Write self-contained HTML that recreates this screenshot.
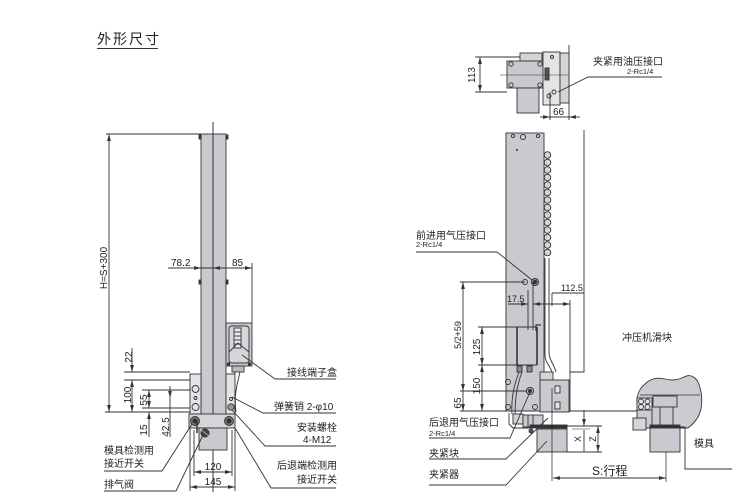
<!DOCTYPE html>
<html><head><meta charset="utf-8"><style>
html,body{margin:0;padding:0;background:#fff;}
svg{display:block;}
text{font-family:"Liberation Sans","Noto Sans CJK SC",sans-serif;fill:#222;}
</style></head><body>
<svg width="732" height="494" viewBox="0 0 732 494" xmlns="http://www.w3.org/2000/svg">
<defs>
<marker id="a" markerWidth="7" markerHeight="5" refX="7" refY="2.5" orient="auto-start-reverse" markerUnits="userSpaceOnUse"><path d="M0,0.6 L7,2.5 L0,4.4 z" fill="#333"/></marker>
</defs>

<!-- Title -->
<text x="97" y="44" font-size="14" letter-spacing="2">外形尺寸</text>
<line x1="97" y1="48.5" x2="158" y2="48.5" stroke="#333" stroke-width="1"/>

<!-- ================= LEFT DRAWING ================= -->
<g stroke="#333" stroke-width="0.9" fill="none">
  <rect x="201" y="134" width="25" height="281" fill="#c9cacf"/>
  <rect x="199" y="135" width="2" height="4" fill="#333"/>
  <rect x="226" y="135" width="2" height="4" fill="#333"/>
  <rect x="199" y="280" width="2" height="4" fill="#333"/>
  <rect x="226" y="280" width="2" height="4" fill="#333"/>
  <rect x="226" y="383" width="2" height="4" fill="#333"/>
  <line x1="213" y1="122" x2="213" y2="492" stroke="#222" stroke-width="0.9"/>

  <line x1="106" y1="134" x2="201" y2="134"/>
  <line x1="109" y1="134" x2="109" y2="412" marker-start="url(#a)" marker-end="url(#a)"/>
  <line x1="105" y1="412" x2="190" y2="412"/>

  <line x1="168" y1="268" x2="201" y2="268" marker-end="url(#a)"/>
  <line x1="201" y1="268" x2="252" y2="268"/>
  <line x1="222" y1="268" x2="213" y2="268" marker-end="url(#a)"/>
  <line x1="226" y1="268" x2="252" y2="268" marker-end="url(#a)"/>
  <line x1="252" y1="263" x2="252" y2="323"/>

  <rect x="226" y="323" width="26" height="43" fill="#c9cacf"/>
  <rect x="229" y="326" width="20" height="37" rx="3" fill="#d4d5d9"/>
  <rect x="234" y="328" width="7" height="20" fill="#e8e8ea"/>
  <line x1="234" y1="332" x2="241" y2="332"/><line x1="234" y1="336" x2="241" y2="336"/>
  <line x1="234" y1="340" x2="241" y2="340"/><line x1="234" y1="344" x2="241" y2="344"/>
  <path d="M229,352 L238,343 L249,352"/>
  <circle cx="228.5" cy="364" r="1.2" fill="#333"/><circle cx="249.5" cy="364" r="1.2" fill="#333"/>
  <rect x="232" y="366" width="12" height="6" fill="#bbb"/>
  <path d="M235,372 C231,385 229,395 231,412"/>
  <path d="M240,372 C236,388 234,398 236,412"/>

  <rect x="190" y="374" width="11" height="40" fill="#e4e4e6"/>
  <circle cx="195.5" cy="389" r="3.5"/>
  <circle cx="195.5" cy="398" r="1.5"/>
  <circle cx="195.5" cy="407" r="3.5"/>
  <rect x="226" y="374" width="9" height="40" fill="#e4e4e6"/>
  <circle cx="231" cy="407" r="3.2" fill="#999"/>
  <circle cx="231" cy="399" r="1.5"/>

  <rect x="189" y="414" width="46" height="14" fill="#d4d5d9"/>
  <circle cx="195" cy="421" r="4.5" fill="#777"/>
  <circle cx="195" cy="421" r="2" fill="#333"/>
  <circle cx="229" cy="421" r="4.5" fill="#777"/>
  <circle cx="229" cy="421" r="2" fill="#333"/>
  <line x1="197" y1="421" x2="197" y2="433" stroke-width="1.5"/>
  <rect x="199" y="428" width="28" height="22" fill="#c9cacf"/>
  <circle cx="205" cy="433" r="4" fill="#444"/>
  <line x1="201" y1="430" x2="209" y2="436" stroke="#aaa"/>

  <line x1="194" y1="430" x2="194" y2="476"/>
  <line x1="232" y1="430" x2="232" y2="476"/>
  <line x1="190" y1="428" x2="190" y2="491"/>
  <line x1="235" y1="428" x2="235" y2="491"/>
  <line x1="194" y1="472" x2="232" y2="472" marker-start="url(#a)" marker-end="url(#a)"/>
  <line x1="190" y1="487" x2="235" y2="487" marker-start="url(#a)" marker-end="url(#a)"/>

  <line x1="124" y1="372" x2="190" y2="372"/>
  <line x1="124" y1="380" x2="190" y2="380"/>
  <line x1="132" y1="348" x2="132" y2="372" marker-end="url(#a)"/>
  <line x1="132" y1="380" x2="132" y2="412" marker-start="url(#a)" marker-end="url(#a)"/>
  <line x1="142" y1="390" x2="190" y2="390"/>
  <line x1="142" y1="408" x2="190" y2="408"/>
  <line x1="149" y1="390" x2="149" y2="408" marker-start="url(#a)" marker-end="url(#a)"/>
  <line x1="149" y1="437" x2="149" y2="412" marker-end="url(#a)"/>
  <line x1="170" y1="386" x2="170" y2="398" marker-end="url(#a)"/>
  <line x1="170" y1="398" x2="170" y2="437"/>

  <polyline points="242,355 275,379 336,379"/>
  <polyline points="232,397 263,413 336,413"/>
  <polyline points="232,410 265,446 336,446"/>
  <polyline points="235,428 271,488 336,488"/>
  <polyline points="192,424 162,471 104,471"/>
  <polyline points="204,433 176,491 104,491"/>
</g>

<g font-size="10">
  <text x="171" y="266">78.2</text>
  <text x="232" y="266">85</text>
  <text x="213" y="470" text-anchor="middle">120</text>
  <text x="213" y="485" text-anchor="middle">145</text>
  <text transform="translate(107,268) rotate(-90)" text-anchor="middle">H=S+300</text>
  <text transform="translate(132,357) rotate(-90)" text-anchor="middle">22</text>
  <text transform="translate(131,395) rotate(-90)" text-anchor="middle">100</text>
  <text transform="translate(147,400) rotate(-90)" text-anchor="middle">55</text>
  <text transform="translate(147,430) rotate(-90)" text-anchor="middle">15</text>
  <text transform="translate(169,427) rotate(-90)" text-anchor="middle">42.5</text>
</g>
<g font-size="10">
  <text x="287" y="376">接线端子盒</text>
  <text x="274" y="410">弹簧销 2-φ10</text>
  <text x="297" y="431">安装螺栓</text>
  <text x="303" y="443">4-M12</text>
  <text x="277" y="469">后退端检测用</text>
  <text x="297" y="483">接近开关</text>
  <text x="104" y="454">模具检测用</text>
  <text x="104" y="467">接近开关</text>
  <text x="104" y="488">排气阀</text>
</g>

<!-- ================= RIGHT DRAWING ================= -->
<g stroke="#333" stroke-width="0.9" fill="none">
  <line x1="569" y1="45" x2="569" y2="120"/>
  <rect x="520" y="53" width="22" height="8" fill="#d4d5d9"/>
  <rect x="507" y="61" width="38" height="27" fill="#c9cacf"/>
  <circle cx="511" cy="64" r="2.2"/><circle cx="540" cy="64" r="2.2"/>
  <circle cx="511" cy="85" r="2.2"/><circle cx="540" cy="85" r="2.2"/>
  <rect x="517" y="88" width="22" height="25" fill="#c9cacf"/>
  <rect x="543" y="52" width="17" height="53" fill="#e4e4e6"/>
  <rect x="545" y="68" width="4" height="12" fill="#555"/>
  <circle cx="552" cy="57" r="1.5"/><circle cx="554" cy="92" r="2"/><circle cx="549" cy="96" r="2"/>
  <rect x="560" y="53" width="9" height="50" fill="#d4d5d9"/>
  <line x1="500" y1="75" x2="569" y2="75" stroke-width="0.6"/>
  <line x1="475" y1="57" x2="520" y2="57"/>
  <line x1="475" y1="92" x2="507" y2="92"/>
  <line x1="480" y1="57" x2="480" y2="92" marker-start="url(#a)" marker-end="url(#a)"/>
  <line x1="550" y1="92" x2="550" y2="120"/>
  <line x1="540" y1="117" x2="550" y2="117" marker-end="url(#a)"/>
  <line x1="550" y1="117" x2="569" y2="117"/>
  <line x1="580" y1="117" x2="569" y2="117" marker-end="url(#a)"/>
  <polyline points="558,92 588,77 662,77"/>

  <rect x="506" y="133" width="38" height="278" fill="#c9cacf"/>
  <circle cx="513" cy="136" r="1.6"/><circle cx="523" cy="137" r="2.6"/><circle cx="538" cy="136" r="1.6"/>
  <circle cx="517" cy="150" r="0.6" fill="#333"/>
  <g fill="#d4d5d9">
    <circle cx="547.5" cy="155" r="3.3"/><circle cx="547.5" cy="162.5" r="3.3"/>
    <circle cx="547.5" cy="170" r="3.3"/><circle cx="547.5" cy="177.5" r="3.3"/>
    <circle cx="547.5" cy="185" r="3.3"/><circle cx="547.5" cy="192.5" r="3.3"/>
    <circle cx="547.5" cy="200" r="3.3"/><circle cx="547.5" cy="207.5" r="3.3"/>
    <circle cx="547.5" cy="215" r="3.3"/><circle cx="547.5" cy="222.5" r="3.3"/>
    <circle cx="547.5" cy="230" r="3.3"/><circle cx="547.5" cy="237.5" r="3.3"/>
    <circle cx="547.5" cy="245" r="3.3"/><circle cx="547.5" cy="252.5" r="3.3"/>
  </g>
  <path d="M545,258 L545,355 C545,362 550,366 552,372"/>
  <path d="M549,258 L549,352 C549,360 554,364 556,372"/>

  <polyline points="584,130 584,372 570,372"/>
  <line x1="570" y1="300" x2="570" y2="412"/>
  <line x1="570" y1="411" x2="637" y2="411"/>

  <circle cx="525" cy="282" r="2.5"/>
  <circle cx="535" cy="282" r="3.6" fill="#888"/>
  <circle cx="535" cy="282" r="1.6" fill="#333"/>
  <polyline points="532,280 497,252 416,252"/>

  <line x1="460" y1="282" x2="525" y2="282"/>
  <line x1="463" y1="282" x2="463" y2="391" marker-start="url(#a)" marker-end="url(#a)"/>
  <line x1="463" y1="391" x2="463" y2="411" marker-end="url(#a)"/>
  <line x1="460" y1="391" x2="530" y2="391"/>
  <line x1="460" y1="411" x2="540" y2="411"/>

  <line x1="533" y1="282" x2="533" y2="330"/>
  <line x1="528" y1="290" x2="528" y2="330"/>
  <line x1="508" y1="304" x2="528" y2="304" marker-end="url(#a)"/>
  <line x1="545" y1="304" x2="533" y2="304" marker-end="url(#a)"/>
  <line x1="533" y1="304" x2="570" y2="304" marker-end="url(#a)"/>
  <line x1="552" y1="293" x2="584" y2="293"/>
  <line x1="552" y1="293" x2="552" y2="306"/>

  <line x1="517" y1="327" x2="517" y2="365" stroke-width="1.6"/>
  <line x1="537" y1="327" x2="537" y2="365" stroke-width="1.6"/>
  <path d="M536,331 L536,325 L541,325" stroke-width="1.2"/>
  <line x1="478" y1="327" x2="537" y2="327"/>
  <line x1="478" y1="365" x2="537" y2="365"/>
  <line x1="482" y1="327" x2="482" y2="365" marker-start="url(#a)" marker-end="url(#a)"/>
  <line x1="482" y1="365" x2="482" y2="411" marker-start="url(#a)" marker-end="url(#a)"/>
  <rect x="517" y="366" width="5" height="6" fill="#888"/>
  <rect x="527" y="366" width="5" height="6" fill="#888"/>
  <path d="M519,372 C514,385 511,400 512,414"/>
  <path d="M522,372 C517,385 515,400 515,414"/>

  <circle cx="508" cy="382" r="2.5"/>
  <circle cx="508" cy="407" r="2.5"/>
  <circle cx="535" cy="407" r="2.5"/>
  <circle cx="530" cy="391" r="3.6" fill="#aaa"/>
  <circle cx="530" cy="391" r="1.5" fill="#333"/>

  <rect x="540" y="372" width="13" height="8" fill="#d4d5d9"/>
  <rect x="540" y="380" width="29" height="32" fill="#c9cacf"/>
  <rect x="555" y="386" width="5" height="7" fill="#e4e4e6"/>
  <rect x="555" y="402" width="5" height="7" fill="#e4e4e6"/>

  <path d="M509,413 L509,424 L513,428 L530,428"/>
  <rect x="513" y="414" width="10" height="10" fill="#d4d5d9"/>
  <rect x="523" y="415" width="20" height="12" fill="#c9cacf"/>
  <line x1="528" y1="415" x2="528" y2="427"/>
  <line x1="533" y1="415" x2="533" y2="427"/>
  <rect x="530" y="425" width="37" height="3" fill="#333"/>
  <rect x="537" y="429" width="30" height="23" fill="#c9cacf"/>
  <circle cx="531" cy="431" r="2" fill="#555"/>
  <line x1="552" y1="388" x2="552" y2="481" stroke="#222" stroke-width="0.7"/>

  <line x1="567" y1="426" x2="602" y2="426"/>
  <line x1="567" y1="452" x2="602" y2="452"/>
  <line x1="584" y1="410" x2="584" y2="426" marker-end="url(#a)"/>
  <line x1="584" y1="430" x2="584" y2="452"/>
  <line x1="598" y1="426" x2="598" y2="452" marker-start="url(#a)" marker-end="url(#a)"/>
  <line x1="572" y1="429" x2="590" y2="429" stroke-width="0.6"/>

  <line x1="666" y1="390" x2="666" y2="482" stroke="#222" stroke-width="0.7"/>
  <line x1="553" y1="478" x2="666" y2="478" marker-start="url(#a)" marker-end="url(#a)"/>

  <path d="M637,428 L637,405 C636,395 640,388 645,384 C650,379 657,377 665,379 C672,381 678,380 684,377 C691,373 698,378 700,388 C703,398 702,410 698,417 C695,422 692,425 688,428 Z" fill="#cbccd0"/>
  <line x1="640" y1="395" x2="700" y2="395" stroke-width="0.7"/>
  <rect x="637" y="398" width="15" height="12" fill="#e4e4e6"/>
  <circle cx="641" cy="401.5" r="2.5"/><circle cx="647.5" cy="401.5" r="2.5"/>
  <circle cx="641" cy="407" r="2.5"/><circle cx="647.5" cy="407" r="2.5"/>
  <rect x="652" y="400" width="10" height="27" fill="#c9cacf"/>
  <rect x="653" y="396" width="24" height="11" fill="#c9cacf"/>
  <rect x="660" y="407" width="13" height="20" fill="#c9cacf"/>
  <rect x="633" y="418" width="13" height="12" fill="#d4d5d9"/>
  <rect x="650" y="425" width="30" height="3" fill="#333"/>
  <rect x="650" y="428" width="30" height="24" fill="#c9cacf"/>
  <polyline points="680,427 685,427 685,469 732,469"/>

  <polyline points="530,392 510,438 429,438"/>
  <polyline points="548,418 506,459 429,459"/>
  <polyline points="547,441 506,485 429,485"/>
</g>

<g font-size="10">
  <text transform="translate(475,75) rotate(-90)" text-anchor="middle">113</text>
  <text x="553" y="115">66</text>
  <text x="507" y="302" font-size="9">17.5</text>
  <text x="561" y="291" font-size="9">112.5</text>
  <text transform="translate(461,335) rotate(-90)" text-anchor="middle" font-size="9">5/2+59</text>
  <text transform="translate(480,347) rotate(-90)" text-anchor="middle">125</text>
  <text transform="translate(480,386) rotate(-90)" text-anchor="middle">150</text>
  <text transform="translate(461,403) rotate(-90)" text-anchor="middle">65</text>
  <text transform="translate(581,439) rotate(-90)" text-anchor="middle" font-size="9">X</text>
  <text transform="translate(596,439) rotate(-90)" text-anchor="middle" font-size="9">Z</text>
</g>
<g font-size="10">
  <text x="593" y="65">夹紧用油压接口</text>
  <text x="416" y="239">前进用气压接口</text>
  <text x="622" y="341">冲压机滑块</text>
  <text x="429" y="426">后退用气压接口</text>
  <text x="429" y="457">夹紧块</text>
  <text x="429" y="478">夹紧器</text>
  <text x="694" y="447">模具</text>
  <text x="592" y="475" font-size="12">S:行程</text>
</g>
<g font-size="7.5">
  <text x="627" y="74">2-Rc1/4</text>
  <text x="416" y="247">2-Rc1/4</text>
  <text x="429" y="436">2-Rc1/4</text>
</g>
</svg>
</body></html>
